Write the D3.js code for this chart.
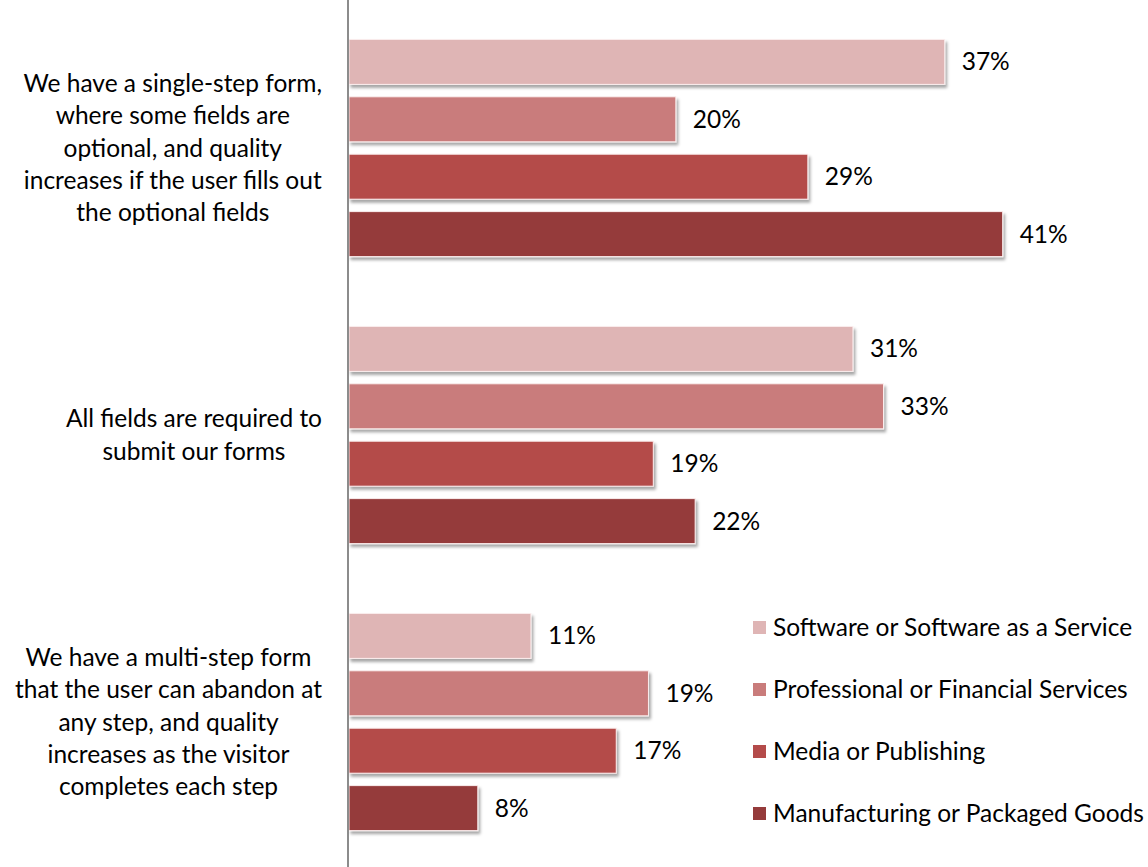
<!DOCTYPE html>
<html>
<head>
<meta charset='utf-8'>
<title>Form fields by industry</title>
<script src='https://d3js.org/d3.v7.min.js'></script>
<style>
  body { margin: 0; background: #fff; }
  svg { display: block; font-family: Lato, "Open Sans", sans-serif; }
</style>
</head>
<body>
<div id="container"></div>
<script>

// categories, top to bottom, already split into the lines shown
const categories = [
  ["We have a single-step form,", "where some fields are", "optional, and quality",
   "increases if the user fills out", "the optional fields"],
  ["All fields are required to", "submit our forms"],
  ["We have a multi-step form", "that the user can abandon at", "any step, and quality",
   "increases as the visitor", "completes each step"]
];
const series = ["Software or Software as a Service", "Professional or Financial Services",
                "Media or Publishing", "Manufacturing or Packaged Goods"];
const colors = ["#dfb5b5", "#c97c7b", "#b44b4a", "#953b3b"];

// values per series, one per category (percent)
const software      = [37.0, 31.3, 11.3];
const professional  = [20.3, 33.2, 18.6];
const media         = [28.5, 18.9, 16.6];
const manufacturing = [40.6, 21.5, 8.0];
const values = [software, professional, media, manufacturing];

const width = 1148, height = 867;
const axisX = 349;
const fontSize = "24.5px";

const svg = d3.select("#container").append("svg")
    .attr("width", width)
    .attr("height", height);

const defs = svg.append("defs");
const shadow = defs.append("filter").attr("id", "shadow")
    .attr("x", "-5%").attr("y", "-20%").attr("width", "115%").attr("height", "150%");
shadow.append("feDropShadow")
    .attr("dx", 2).attr("dy", 3).attr("stdDeviation", 1.8)
    .attr("flood-color", "#000").attr("flood-opacity", 0.35);

const x = d3.scaleLinear().domain([0, 50]).range([axisX, axisX + 50 * 16.1]);

const y = d3.scaleBand()
    .domain(d3.range(categories.length))
    .range([4.5, 865.5])
    .padding(0);

const ySub = d3.scaleBand()
    .domain(d3.range(series.length))
    .range([0, y.bandwidth()])
    .paddingInner(0.216)
    .paddingOuter(0.608);

const groups = svg.selectAll("g.cat")
  .data(categories)
  .enter()
  .append("g")
    .attr("class", "cat")
    .attr("transform", (d, i) => `translate(0, ${y(i)})`);

groups.each(function(d, ci) {
  const g = d3.select(this);
  const rows = series.map((s, si) => ({si: si, v: values[si][ci]}));

  g.selectAll("rect")
    .data(rows)
    .enter()
    .append("rect")
      .attr("x", x(0))
      .attr("y", r => ySub(r.si))
      .attr("width", r => x(r.v) - x(0))
      .attr("height", ySub.bandwidth())
      .attr("fill", r => colors[r.si])
      .attr("stroke", "#fbeeee")
      .attr("stroke-width", 1)
      .attr("filter", "url(#shadow)");

  g.selectAll("text.val")
    .data(rows)
    .enter()
    .append("text")
      .attr("class", "val")
      .attr("x", r => x(r.v) + 17)
      .attr("y", r => ySub(r.si) + ySub.bandwidth() / 2)
      .attr("dy", "0.35em")
      .style("font-size", fontSize)
      .style("fill", "#000")
      .text(r => Math.round(r.v) + "%");

  // category label: block right aligned to the axis, lines centered inside
  const lab = g.append("text")
      .style("font-size", fontSize)
      .style("fill", "#000")
      .attr("text-anchor", "middle");
  const lineH = 32.3;
  const top = y.bandwidth() / 2 - (d.length - 1) * lineH / 2;
  const spans = lab.selectAll("tspan")
    .data(d)
    .enter()
    .append("tspan")
      .attr("y", (t, i) => top + i * lineH)
      .attr("dy", "0.35em")
      .text(t => t);
  let maxW = 0;
  spans.each(function() { maxW = Math.max(maxW, this.getComputedTextLength()); });
  spans.attr("x", axisX - 27 - maxW / 2);
});

// vertical category axis line
svg.append("line")
    .attr("x1", axisX - 1).attr("x2", axisX - 1)
    .attr("y1", 0).attr("y2", height)
    .attr("stroke", "#8c8c8c")
    .attr("stroke-width", 2);

// legend
const legend = svg.append("g")
    .attr("transform", "translate(753, 627)");
const items = legend.selectAll("g")
  .data(series)
  .enter()
  .append("g")
    .attr("transform", (d, i) => `translate(0, ${i * 62})`);
items.append("rect")
    .attr("x", 0).attr("y", -6)
    .attr("width", 13).attr("height", 13)
    .attr("fill", (d, i) => colors[i]);
items.append("text")
    .attr("x", 20)
    .attr("dy", "0.35em")
    .style("font-size", fontSize)
    .style("fill", "#000")
    .text(d => d);

</script>
</body>
</html>
